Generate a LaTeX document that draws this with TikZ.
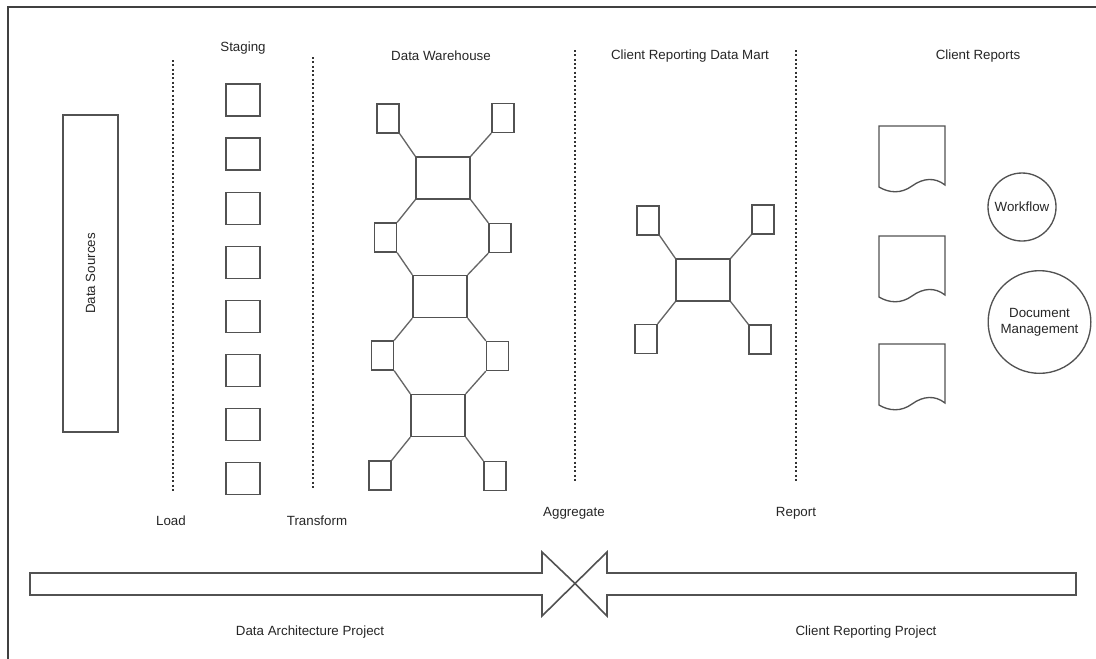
\documentclass[tikz,border=0pt]{standalone}
\usepackage{fontspec}
\setmainfont{Liberation Sans}
\begin{document}
\begin{tikzpicture}[x=0.75pt, y=-0.75pt,
  every node/.style={font=\fontsize{10}{12}\selectfont, text=black!85, inner sep=0pt},
  shape line/.style={draw=black!68, line width=1pt},
  stagebox/.style={shape line, rectangle, minimum width=25.5pt, minimum height=24pt},
  tablebox/.style={shape line, rectangle, minimum width=16.5pt, minimum height=21.75pt},
  factbox/.style={shape line, rectangle, minimum width=40.5pt, minimum height=31.5pt},
  link/.style={draw=black!60, line width=1pt},
  divider/.style={draw=black!80, line width=1.4pt, line cap=butt, dash pattern=on 1.4pt off 1.85pt},
  bubble/.style={shape line, circle, align=center},
  docpath/.style={shape line, line join=miter},
  banner/.style={draw=black!68, line width=1.2pt, fill=white, line join=miter}
]
\useasboundingbox (0,0) rectangle (1096,658);

% frame (top and left edges)
\draw[draw=black!75, line width=1.6pt] (8,665) -- (8,7) -- (1100,7);

% column headings
\node (hStaging) at (243,48) {Staging};
\node (hDW) at (441,56) {Data Warehouse};
\node (hMart) at (690,56) {Client Reporting Data Mart};
\node (hReports) at (978,56) {Client Reports};

% dividers between the layers
\coordinate (d1t) at (173,60);  \coordinate (d1b) at (173,492);
\coordinate (d2t) at (313,57);  \coordinate (d2b) at (313,488);
\coordinate (d3t) at (575,50);  \coordinate (d3b) at (575,482);
\coordinate (d4t) at (796,50);  \coordinate (d4b) at (796,482);
\draw[divider] (d1t) -- (d1b);
\draw[divider] (d2t) -- (d2b);
\draw[divider] (d3t) -- (d3b);
\draw[divider] (d4t) -- (d4b);

% process labels
\node (lLoad) at (171,521) {Load};
\node (lTransform) at (317,521) {Transform};
\node (lAggregate) at (574,513) {Aggregate};
\node (lReport) at (796,513) {Report};

% data sources
\node[shape line, rectangle, minimum width=41.25pt, minimum height=237.75pt] (src) at (90.5,273.5) {};
\node[rotate=90] (srcText) at (src.center) {Data Sources};

% staging tables
\foreach \i in {0,...,7} {
  \node[stagebox] (stg\i) at (243,{100+54.1*\i}) {};
}

% data warehouse: fact tables with dimension tables
\node[factbox] (f1) at (443,178) {};
\node[factbox] (f2) at (440,296.5) {};
\node[factbox] (f3) at (438,415.5) {};
\node[tablebox] (dTL) at (388,118.5) {};
\node[tablebox] (dTR) at (503,118) {};
\node[tablebox] (dL1) at (385.5,237.5) {};
\node[tablebox] (dR1) at (500,238) {};
\node[tablebox] (dL2) at (382.5,355.5) {};
\node[tablebox] (dR2) at (497.5,356) {};
\node[tablebox] (dBL) at (380,475.5) {};
\node[tablebox] (dBR) at (495,476) {};
\draw[link] (dTL.south east) -- (f1.north west);
\draw[link] (dTR.south west) -- (f1.north east);
\draw[link] (f1.south west) -- (dL1.north east);
\draw[link] (dL1.south east) -- (f2.north west);
\draw[link] (f1.south east) -- (dR1.north west);
\draw[link] (dR1.south west) -- (f2.north east);
\draw[link] (f2.south west) -- (dL2.north east);
\draw[link] (dL2.south east) -- (f3.north west);
\draw[link] (f2.south east) -- (dR2.north west);
\draw[link] (dR2.south west) -- (f3.north east);
\draw[link] (f3.south west) -- (dBL.north east);
\draw[link] (f3.south east) -- (dBR.north west);

% client reporting data mart
\node[factbox] (m0) at (703,280) {};
\node[tablebox] (mTL) at (648,220.5) {};
\node[tablebox] (mTR) at (763,219.5) {};
\node[tablebox] (mBL) at (646,339) {};
\node[tablebox] (mBR) at (760,339.5) {};
\draw[link] (mTL.south east) -- (m0.north west);
\draw[link] (mTR.south west) -- (m0.north east);
\draw[link] (mBL.north east) -- (m0.south west);
\draw[link] (mBR.north west) -- (m0.south east);

% client reports (document shapes)
\foreach \n/\y in {1/126, 2/236, 3/344} {
  \coordinate (rep\n) at (879,\y);
  \draw[docpath, shift={(rep\n)}]
    (0,0) -- (66,0) -- (66,59)
    .. controls (56,51) and (44,52) .. (33,60)
    .. controls (22,68) and (10,67) .. (0,61) -- cycle;
}
\node[bubble, minimum size=51pt] (wf) at (1022,207) {Workflow};
\node[bubble, minimum size=77pt] (dm) at (1039.5,322) {Document\\Management};

% project banners
\coordinate (meet) at (575,583.5);
\draw[banner] (30,573) -- (542,573) -- (542,552) -- (meet) -- (542,616) -- (542,595) -- (30,595) -- cycle;
\draw[banner] (1076,573) -- (607,573) -- (607,552) -- (meet) -- (607,616) -- (607,595) -- (1076,595) -- cycle;
\node (pArch) at (310,632) {Data Architecture Project};
\node (pClient) at (866,632) {Client Reporting Project};
\end{tikzpicture}
\end{document}
